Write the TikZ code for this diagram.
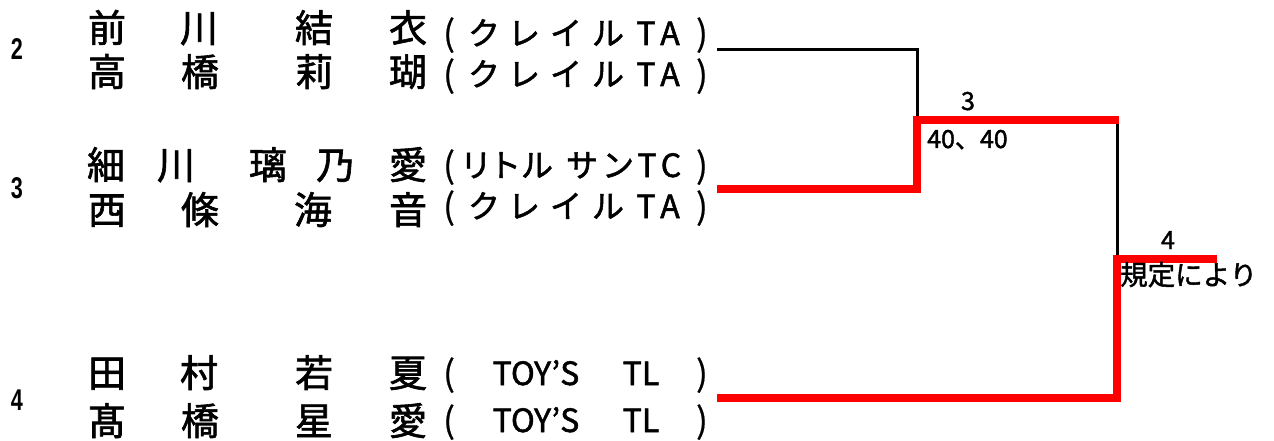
\documentclass[tikz,border=0pt]{standalone}
\usepackage{fontspec}
\newfontfamily\jp{Noto Sans CJK JP}[FakeBold=1.6]
\newfontfamily\jpthin{Noto Sans CJK JP}[FakeBold=0.6]
\newfontfamily\numfont{Liberation Sans}[FakeStretch=0.72]
\begin{document}
\begin{tikzpicture}[x=1pt,y=-1pt,
  nm/.style={inner sep=0pt,anchor=base,font=\jp\fontsize{38}{40}\selectfont},
  tm/.style={inner sep=0pt,anchor=base,font=\jp\fontsize{32}{34}\selectfont},
  pr/.style={inner sep=0pt,anchor=base,font=\jpthin\fontsize{35}{38}\selectfont},
  seed/.style={inner sep=0pt,anchor=base,font=\numfont\bfseries\fontsize{30}{32}\selectfont},
  lab/.style={inner sep=0pt,anchor=base,font=\jp\fontsize{25}{28}\selectfont},
  labw/.style={lab,font=\jp\fontsize{27.5}{30}\selectfont},
  lose/.style={draw=black,line width=3pt,line join=miter},
  win/.style={draw=red,line width=7.5pt,line join=miter}]
\useasboundingbox (0,0) rectangle (1274,441);
% seeds
\node[seed] (s2) at (17,60) {2};
\node[seed] (s3) at (17,198) {3};
\node[seed] (s4) at (17,410) {4};
% row 1
\node[nm] (a1) at (107,42) {前};
\node[nm] (a2) at (199,42) {川};
\node[nm] (a3) at (314,42) {結};
\node[nm] (a4) at (408,42) {衣};
\node[pr] (at1) at (449,46) {(};
\node[tm] (at2) at (484,45) {ク};
\node[tm] (at3) at (524,45) {レ};
\node[tm] (at4) at (566,45) {イ};
\node[tm] (at5) at (608,45) {ル};
\node[tm] (at6) at (646,45) {T};
\node[tm] (at7) at (670,45) {A};
\node[pr] (at8) at (702,46) {)};
% row 2
\node[nm] (b1) at (107,86) {高};
\node[nm] (b2) at (200,86) {橋};
\node[nm] (b3) at (314,86) {莉};
\node[nm] (b4) at (408,86) {瑚};
\node[pr] (bt1) at (449,87) {(};
\node[tm] (bt2) at (484,86) {ク};
\node[tm] (bt3) at (524,86) {レ};
\node[tm] (bt4) at (566,86) {イ};
\node[tm] (bt5) at (608,86) {ル};
\node[tm] (bt6) at (646,86) {T};
\node[tm] (bt7) at (670,86) {A};
\node[pr] (bt8) at (702,87) {)};
% row 3
\node[nm] (c1) at (106,179) {細};
\node[nm] (c2) at (176,179) {川};
\node[nm] (c3) at (268,179) {璃};
\node[nm] (c4) at (335,179) {乃};
\node[nm] (c5) at (408,179) {愛};
\node[pr] (ct1) at (449,178) {(};
\node[tm] (ct2) at (476,177) {リ};
\node[tm] (ct3) at (505,177) {ト};
\node[tm] (ct4) at (537,177) {ル};
\node[tm] (ct5) at (582,177) {サ};
\node[tm] (ct6) at (618,177) {ン};
\node[tm] (ct7) at (647,177) {T};
\node[tm] (ct8) at (671,177) {C};
\node[pr] (ct9) at (702,178) {)};
% row 4
\node[nm] (d1) at (107,224) {西};
\node[nm] (d2) at (200,224) {條};
\node[nm] (d3) at (313,224) {海};
\node[nm] (d4) at (408,224) {音};
\node[pr] (dt1) at (449,219) {(};
\node[tm] (dt2) at (484,218) {ク};
\node[tm] (dt3) at (524,218) {レ};
\node[tm] (dt4) at (566,218) {イ};
\node[tm] (dt5) at (608,218) {ル};
\node[tm] (dt6) at (646,218) {T};
\node[tm] (dt7) at (670,218) {A};
\node[pr] (dt8) at (702,219) {)};
% row 5
\node[nm] (e1) at (107,387) {田};
\node[nm] (e2) at (199,387) {村};
\node[nm] (e3) at (314,387) {若};
\node[nm] (e4) at (408,387) {夏};
\node[pr] (et1) at (449,386) {(};
\node[tm] (et2) at (536,385) {TOY’S};
\node[tm] (et3) at (641,385) {TL};
\node[pr] (et4) at (702,386) {)};
% row 6
\node[nm] (f1) at (107,435) {髙};
\node[nm] (f2) at (200,435) {橋};
\node[nm] (f3) at (314,435) {星};
\node[nm] (f4) at (408,435) {愛};
\node[pr] (ft1) at (449,433) {(};
\node[tm] (ft2) at (536,432) {TOY’S};
\node[tm] (ft3) at (641,432) {TL};
\node[pr] (ft4) at (702,433) {)};
% bracket points
\coordinate (p1) at (717,50);
\coordinate (m1) at (917,50);
\coordinate (m1b) at (917,120);
\coordinate (p2) at (717,189);
\coordinate (m2) at (917,189);
\coordinate (w1) at (1117,120);
\coordinate (q1) at (1117,259);
\coordinate (p3) at (717,398);
\coordinate (q3) at (1117,398);
\coordinate (w2) at (1217,259);
\draw[lose] (p1) -- (m1) -- (m1b);
\draw[lose] (w1) -- (q1);
\draw[win] (p2) -- (m2) -- (m1b) -- ([xshift=2pt]w1);
\draw[win] (p3) -- (q3) -- (q1) -- (w2);
% labels
\node[lab] (l3) at (968,110) {3};
\node[lab,anchor=base west] (sc1) at (927,148) {40、40};
\node[lab] (l4) at (1168,249) {4};
\node[labw,anchor=base west] (sc2) at (1120,285) {規定により};
\end{tikzpicture}
\end{document}
